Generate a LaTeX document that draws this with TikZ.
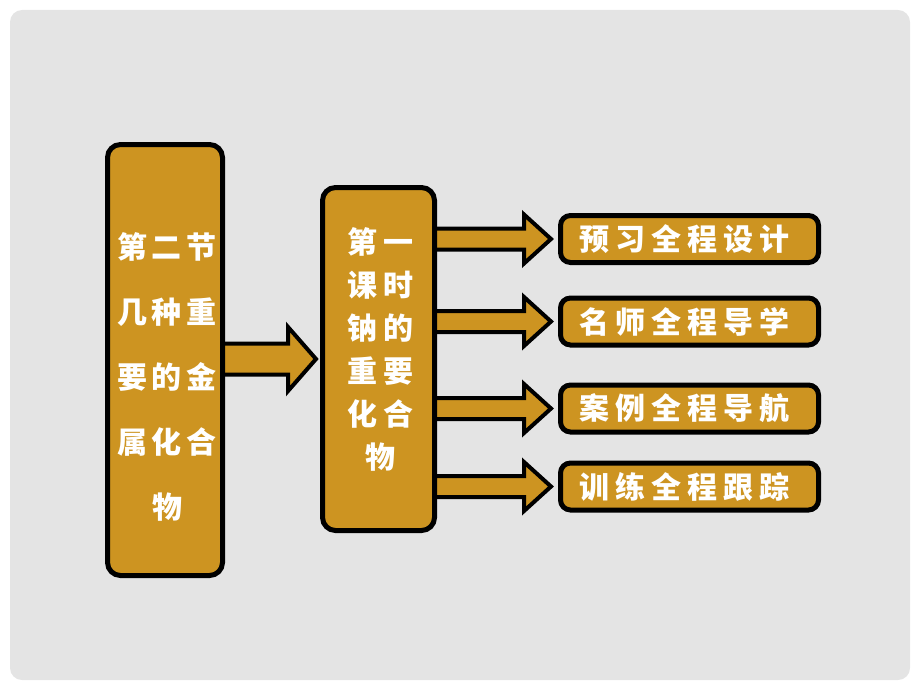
\documentclass[tikz,border=0pt]{standalone}
\usepackage{fontspec}
\newfontfamily\cjk{Noto Sans CJK SC}
\usetikzlibrary{calc}
\definecolor{gold}{RGB}{205,148,33}
\definecolor{panelgray}{RGB}{228,228,228}
\pgfdeclarelayer{panellayer}
\pgfdeclarelayer{arrowlayer}
\pgfsetlayers{panellayer,arrowlayer,main}
\newcommand\chgap{\hspace{5pt}}
\newcommand\chgapM{\hspace{6pt}}
\newcommand\chgapB{\hspace{6pt}}
\newcommand\blockarrow[5]{%
  \draw[arr] ($(#1)+(0,-#3)$) -- ($(#2)+(-#5,-#3)$) -- ($(#2)+(-#5,-#4)$) -- (#2)
    -- ($(#2)+(-#5,#4)$) -- ($(#2)+(-#5,#3)$) -- ($(#1)+(0,#3)$) -- cycle;}
\begin{document}
\begin{tikzpicture}[x=1pt,y=-1pt,
  box/.style={draw=black, line width=5pt, fill=gold, rounded corners=13pt, inner sep=0pt},
  smallbox/.style={box, minimum width=258pt, minimum height=47pt, rounded corners=10pt},
  arr/.style={draw=black, line width=4pt, fill=gold, line join=miter},
  txt/.style={text=white, align=center, inner sep=0pt}]
\useasboundingbox (0,0) rectangle (920,690);
\begin{pgfonlayer}{panellayer}
  \fill[panelgray, rounded corners=12pt] (10,10) rectangle (910,680);
\end{pgfonlayer}

% boxes
\node[box, minimum width=115pt, minimum height=431pt] (L) at (165,360) {};
\node[box, minimum width=112pt, minimum height=343pt] (M) at (378.5,359) {};
\node[smallbox] (B1) at (689.5,239) {};
\node[smallbox] (B2) at (689.5,321.5) {};
\node[smallbox] (B3) at (689.5,408.5) {};
\node[smallbox] (B4) at (689.5,486.5) {};

% texts
\node[txt, font=\cjk\bfseries\fontsize{30pt}{65pt}\selectfont] (Lt) at (167,377)
  {第\chgap 二\chgap 节\\几\chgap 种\chgap 重\\要\chgap 的\chgap 金\\属\chgap 化\chgap 合\\物};
\node[txt, font=\cjk\bfseries\fontsize{30pt}{43pt}\selectfont] (Mt) at (380,349)
  {第\chgapM 一\\课\chgapM 时\\钠\chgapM 的\\重\chgapM 要\\化\chgapM 合\\物};
\node[txt, font=\cjk\bfseries\fontsize{30pt}{36pt}\selectfont] (T1) at (684,239) {预\chgapB 习\chgapB 全\chgapB 程\chgapB 设\chgapB 计};
\node[txt, font=\cjk\bfseries\fontsize{30pt}{36pt}\selectfont] (T2) at (684,321.5) {名\chgapB 师\chgapB 全\chgapB 程\chgapB 导\chgapB 学};
\node[txt, font=\cjk\bfseries\fontsize{30pt}{36pt}\selectfont] (T3) at (684,408.5) {案\chgapB 例\chgapB 全\chgapB 程\chgapB 导\chgapB 航};
\node[txt, font=\cjk\bfseries\fontsize{30pt}{36pt}\selectfont] (T4) at (684,486.5) {训\chgapB 练\chgapB 全\chgapB 程\chgapB 跟\chgapB 踪};

% arrow anchor points
\coordinate (p0) at (L.east|-M.west);
\coordinate (a0s) at ($(p0)+(-6,0)$);
\coordinate (a0t) at ($(M.west)+(-4,0)$);
\foreach \k in {1,2,3,4}{
  \coordinate (q\k) at (M.east|-B\k.west);
  \coordinate (a\k s) at ($(q\k)+(-6,0)$);
  \coordinate (a\k t) at ($(B\k.west)+(-7,0)$);
}
\begin{pgfonlayer}{arrowlayer}
  \blockarrow{a0s}{a0t}{15.5}{32}{28}
  \blockarrow{a1s}{a1t}{10.5}{24.5}{27}
  \blockarrow{a2s}{a2t}{10.5}{24.5}{27}
  \blockarrow{a3s}{a3t}{10.5}{24.5}{27}
  \blockarrow{a4s}{a4t}{10.5}{24.5}{27}
\end{pgfonlayer}
\end{tikzpicture}
\end{document}
